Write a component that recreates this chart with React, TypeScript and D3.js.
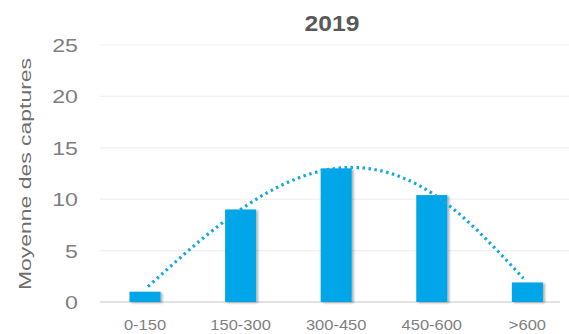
import React from "react";
import * as d3 from "d3";

const categories = ["0-150", "150-300", "300-450", "450-600", ">600"];
const values = [1.0, 9.0, 13.0, 10.4, 1.9];
const trendValues = [1.5, 9.0, 13.0, 10.6, 2.3];
const yTicks = [0, 5, 10, 15, 20, 25];
const title = "2019";
const yTitle = "Moyenne des  captures";

const W = 569;
const H = 334;

export default function App() {
  const x = d3
    .scaleBand<string>()
    .domain(categories)
    .range([97.2, 575.2])
    .paddingInner(0.675)
    .paddingOuter(0.3375);
  const y = d3.scaleLinear().domain([0, 25]).range([302, 45]);

  const pts: [number, number][] = categories.map((c, i) => [
    (x(c) as number) + x.bandwidth() / 2 + (i === 0 ? 3 : i === categories.length - 1 ? -4 : 0),
    y(trendValues[i]),
  ]);
  const line = d3.line().curve(d3.curveNatural)(pts) || "";

  return (
    <svg
      width={W}
      height={H}
      style={{ position: "absolute", left: 0, top: 0, background: "#fff" }}
      fontFamily="Arial, 'Liberation Sans', sans-serif"
    >
      <defs>
        <filter id="sh" x="-20%" y="-20%" width="150%" height="150%">
          <feDropShadow dx="2" dy="1" stdDeviation="1.2" floodColor="#000" floodOpacity="0.3" />
        </filter>
      </defs>
      <rect width={W} height={H} fill="#fff" />
      {yTicks.filter((t) => t > 0).map((t) => (
        <line key={t} x1={100} x2={W} y1={y(t)} y2={y(t)} stroke="#efefef" strokeWidth={1.2} />
      ))}
      <line x1={100} x2={560} y1={y(0)} y2={y(0)} stroke="#d9d9d9" strokeWidth={1.5} />
      {yTicks.map((t) => (
        <text
          key={t}
          transform={`translate(78,${y(t) + 7}) scale(1.22,1)`}
          textAnchor="end"
          fontSize={19}
          fill="#7f7f7f"
        >
          {t}
        </text>
      ))}
      {categories.map((c, i) => (
        <rect
          key={c}
          x={x(c)}
          y={y(values[i])}
          width={x.bandwidth()}
          height={y(0) - y(values[i])}
          fill="#06a6e8"
          filter="url(#sh)"
        />
      ))}
      <path
        d={line}
        fill="none"
        stroke="#16a8e0"
        strokeWidth={3.2}
        strokeDasharray="2.5 3.5"
      />
      {categories.map((c) => (
        <text
          key={c}
          transform={`translate(${(x(c) as number) + x.bandwidth() / 2},329.5) scale(1.1,1)`}
          textAnchor="middle"
          fontSize={15}
          fill="#7f7f7f"
        >
          {c}
        </text>
      ))}
      <text
        transform={`translate(332,30.5) scale(1.12,1)`}
        textAnchor="middle"
        fontSize={22}
        fontWeight="bold"
        fill="#595959"
      >
        {title}
      </text>
      <text
        transform={`translate(31,174) rotate(-90)`}
        textAnchor="middle"
        fontSize={17}
        fill="#6f6f6f"
        textLength={232}
        lengthAdjust="spacingAndGlyphs"
      >
        {yTitle}
      </text>
    </svg>
  );
}
